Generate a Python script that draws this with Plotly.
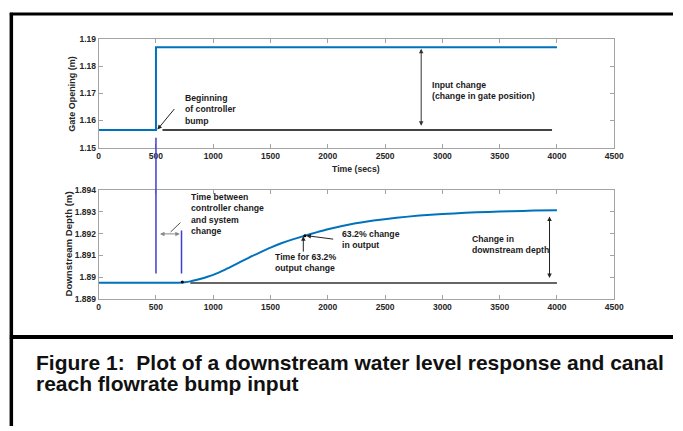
import plotly.graph_objects as go

W, H = 683, 431

# ---------------- data ----------------
gate_t = [0, 500, 500, 4000]
gate_y = [1.1565, 1.1565, 1.187, 1.187]
gate_base_t = [557, 3957]
gate_base_y = [1.1565, 1.1565]

depth_t = [0, 250, 500, 700, 750, 800, 850, 900, 950, 1000, 1100, 1200, 1300, 1400, 1500,
           1600, 1700, 1800, 1900, 2000, 2200, 2400, 2600, 2800, 3000, 3200, 3400,
           3600, 3800, 4000]
depth_y = [1.88975, 1.88975, 1.88975, 1.88975, 1.88977, 1.88981, 1.88987, 1.88994,
           1.89002, 1.89011, 1.89034, 1.89060, 1.89087, 1.89112, 1.89136, 1.89157,
           1.89175, 1.89191, 1.89206, 1.89220, 1.89243, 1.89260, 1.89273, 1.89283,
           1.89290, 1.89296, 1.89300, 1.89303, 1.89306, 1.89308]
depth_base_t = [800, 4000]
depth_base_y = [1.88974, 1.88974]

x_ticks = [0, 500, 1000, 1500, 2000, 2500, 3000, 3500, 4000, 4500]
gate_ticks = [1.15, 1.16, 1.17, 1.18, 1.19]
gate_ticklabels = ["1.15", "1.16", "1.17", "1.18", "1.19"]
depth_ticks = [1.889, 1.890, 1.891, 1.892, 1.893, 1.894]
depth_ticklabels = ["1.889", "1.89", "1.891", "1.892", "1.893", "1.894"]

caption_lines = ["Figure 1:  Plot of a downstream water level response and canal",
                 "reach flowrate bump input"]

# ---------------- helpers ----------------
def px(x):
    return x / W

def py(y):
    return 1 - y / H

FONT = "Arial, Liberation Sans, sans-serif"
BLUE = "#0072BD"
VBLUE = "#3f3fd0"
AX = "#a3a3a3"
TXT = "#1a1a1a"

fig = go.Figure()
fig.add_trace(go.Scatter(x=gate_t, y=gate_y, mode="lines", line=dict(color=BLUE, width=2),
                         xaxis="x", yaxis="y", showlegend=False))
fig.add_trace(go.Scatter(x=gate_base_t, y=gate_base_y, mode="lines",
                         line=dict(color="#444444", width=1.8), xaxis="x", yaxis="y",
                         showlegend=False))
fig.add_trace(go.Scatter(x=depth_t, y=depth_y, mode="lines",
                         line=dict(color=BLUE, width=2, shape="spline", smoothing=0.6),
                         xaxis="x2", yaxis="y2", showlegend=False))
fig.add_trace(go.Scatter(x=depth_base_t, y=depth_base_y, mode="lines",
                         line=dict(color="#333333", width=1.5), xaxis="x2", yaxis="y2",
                         showlegend=False))
fig.add_trace(go.Scatter(x=[730, 1800], y=[1.88978, 1.89191], mode="markers",
                         marker=dict(color="black", size=3), xaxis="x2", yaxis="y2",
                         showlegend=False))

TF = dict(family=FONT, size=8.5, color="#262626", weight="bold")
axis_common = dict(range=[0, 4500], tickvals=x_ticks, showgrid=False, zeroline=False,
                   showline=True, linecolor=AX, linewidth=1, mirror="ticks",
                   ticks="inside", ticklen=4, tickcolor=AX, tickfont=TF)
yaxis_common = dict(showgrid=False, zeroline=False, showline=True, linecolor=AX,
                    linewidth=1, mirror="ticks", ticks="inside", ticklen=4, tickcolor=AX,
                    tickfont=TF)

fig.update_layout(
    width=W, height=H, margin=dict(l=0, r=0, t=0, b=0),
    paper_bgcolor="white", plot_bgcolor="white",
    xaxis=dict(domain=[px(98.4), px(623.2)], anchor="y", **axis_common),
    yaxis=dict(domain=[py(146), py(35)], anchor="x", range=[1.15, 1.19],
               tickvals=gate_ticks, ticktext=gate_ticklabels, **yaxis_common),
    xaxis2=dict(domain=[px(98.4), px(623.2)], anchor="y2", **axis_common),
    yaxis2=dict(domain=[py(301), py(189.5)], anchor="x2", range=[1.889, 1.894],
                tickvals=depth_ticks, ticktext=depth_ticklabels, **yaxis_common),
)

ann = []
AF = dict(family=FONT, size=8.7, color=TXT, weight="bold")

def text(x, y, t, xref="x", yref="y"):
    ann.append(dict(x=x, y=y, xref=xref, yref=yref, text=t, showarrow=False,
                    xanchor="left", yanchor="middle", align="left", font=AF))

def arrow(x, y, ax, ay, xref="x", yref="y", both=False, color="#222222"):
    ann.append(dict(x=x, y=y, ax=ax, ay=ay, xref=xref, yref=yref,
                    axref=xref, ayref=yref, text="", showarrow=True,
                    arrowhead=2, startarrowhead=2, arrowsize=0.9, startarrowsize=0.9,
                    arrowwidth=1, arrowcolor=color, standoff=0, startstandoff=0,
                    arrowside="end+start" if both else "end"))

# top plot annotations
text(735, 1.16405, "Beginning<br>of controller<br>bump")
arrow(513, 1.1567, 671, 1.16477)
text(2890, 1.17119, "Input change<br>(change in gate position)")
arrow(2815, 1.1865, 2815, 1.1575, both=True, color="#333333")

# bottom plot annotations
text(791, 1.89291, "Time between<br>controller change<br>and system<br>change", "x2", "y2")
arrow(708, 1.89199, 522, 1.89199, "x2", "y2", both=True, color="#888888")
text(1520, 1.89067, "Time for 63.2%<br>output change", "x2", "y2")
arrow(1786, 1.89188, 1786, 1.89111, "x2", "y2")
text(2110, 1.89174, "63.2% change<br>in output", "x2", "y2")
arrow(1813, 1.89191, 2060, 1.89174, "x2", "y2")
text(3243, 1.89151, "Change in<br>downstream depth", "x2", "y2")
arrow(3935, 1.88997, 3935, 1.89286, "x2", "y2", both=True)

# axis titles
ann.append(dict(x=px(360.6), y=py(168), xref="paper", yref="paper", text="Time (secs)",
                showarrow=False, xanchor="center", yanchor="middle",
                font=dict(family=FONT, size=8.7, color="#262626", weight="bold")))
ann.append(dict(x=px(71.7), y=py(90.5), xref="paper", yref="paper",
                text="Gate Opening (m)", textangle=-90, showarrow=False,
                xanchor="center", yanchor="middle",
                font=dict(family=FONT, size=9, color="#262626", weight="bold")))
ann.append(dict(x=px(67.3), y=py(245), xref="paper", yref="paper",
                text="Downstream Depth (m)", textangle=-90, showarrow=False,
                xanchor="center", yanchor="middle",
                font=dict(family=FONT, size=9.6, color="#262626", weight="bold")))

# caption
cap_font = dict(family=FONT, size=21, color="#111111", weight="bold")
ann.append(dict(x=px(33), y=py(365.5), xref="paper", yref="paper", text=caption_lines[0],
                showarrow=False, xanchor="left", yanchor="middle", font=cap_font))
ann.append(dict(x=px(33), y=py(387.1), xref="paper", yref="paper", text=caption_lines[1],
                showarrow=False, xanchor="left", yanchor="middle", font=cap_font))

fig.update_layout(annotations=ann)

shapes = []
# vertical blue marker lines
shapes.append(dict(type="line", xref="x", yref="paper", x0=500, x1=500,
                   y0=py(275), y1=py(136), line=dict(color=VBLUE, width=1.5)))
shapes.append(dict(type="line", xref="x2", yref="y2", x0=723, x1=723,
                   y0=1.89017, y1=1.89214, line=dict(color=VBLUE, width=1.5)))
# leader line
shapes.append(dict(type="line", xref="x2", yref="y2", x0=628, x1=714,
                   y0=1.89208, y1=1.89251, line=dict(color="#222222", width=0.8)))
# page frame
shapes.append(dict(type="line", xref="paper", yref="paper", x0=px(8), x1=1,
                   y0=py(9.3), y1=py(9.3), line=dict(color="black", width=3)))
shapes.append(dict(type="line", xref="paper", yref="paper", x0=px(9.5), x1=px(9.5),
                   y0=py(8), y1=0, line=dict(color="black", width=3.5)))
shapes.append(dict(type="line", xref="paper", yref="paper", x0=px(8), x1=1,
                   y0=py(340), y1=py(340), line=dict(color="black", width=4)))
fig.update_layout(shapes=shapes)

fig.write_html("out.html")
